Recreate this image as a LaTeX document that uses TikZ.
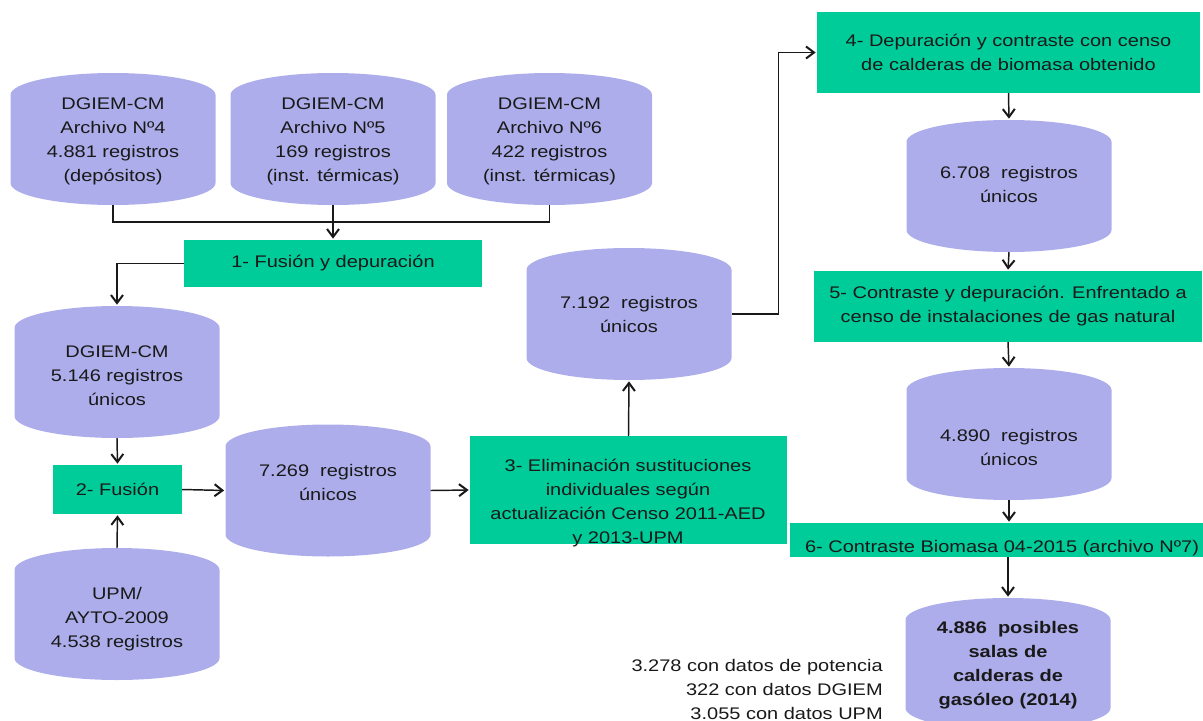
\documentclass[tikz,border=0pt]{standalone}
\usepackage{fontspec}
\setmainfont{Liberation Sans}[FakeStretch=1.19]
\usetikzlibrary{arrows.meta}
\definecolor{lav}{RGB}{173,173,235}
\definecolor{grn}{RGB}{0,204,153}
\definecolor{ink}{RGB}{25,25,25}
\tikzset{
  cylbody/.style={minimum width=153.75pt, minimum height=99pt, inner sep=0pt, outer sep=0pt,
    path picture={
      \fill[lav] ([yshift=-16.5pt]path picture bounding box.north west) -- ([yshift=16.5pt]path picture bounding box.south west)
        arc[start angle=180,end angle=360,x radius=76.875pt,y radius=16.5pt]
        -- ([yshift=-16.5pt]path picture bounding box.north east)
        arc[start angle=0,end angle=180,x radius=76.875pt,y radius=16.5pt] -- cycle;
    }},
  cyl/.style={cylbody, append after command={
      \pgfextra{\draw[white, opacity=.7, line width=0.7pt] ([yshift=-16.5pt]\tikzlastnode.north west)
        arc[start angle=180,end angle=215,x radius=76.875pt,y radius=16.5pt];
      \draw[white, opacity=.7, line width=0.7pt] ([yshift=-16.5pt]\tikzlastnode.north east)
        arc[start angle=360,end angle=325,x radius=76.875pt,y radius=16.5pt];}}},
  cylfull/.style={cylbody, append after command={
      \pgfextra{\draw[white, opacity=.6, line width=0.7pt] ([yshift=-16.5pt]\tikzlastnode.north west)
        arc[start angle=180,end angle=360,x radius=76.875pt,y radius=16.5pt];}}},
  box/.style={fill=grn, draw=none, inner sep=0pt, outer sep=0pt, align=center, text=ink},
  ctext/.style={align=center, text=ink, inner sep=0pt},
  conn/.style={draw=ink, line width=1.1pt},
  arr/.style={conn, -{Straight Barb[length=6pt,width=9pt,line width=1.5pt]}, shorten >=1pt},
  every node/.append style={font=\fontsize{12.6}{18}\selectfont}
}
\begin{document}
\begin{tikzpicture}[x=0.75pt,y=-0.75pt]
\useasboundingbox (0,0) rectangle (1203,721);
\clip (0,0) rectangle (1203,721);

% cylinders
\node[cyl] (c4) at (113,139) {};
\node[ctext] (t4) at (113,141) {DGIEM-CM\\Archivo Nº4\\4.881 registros\\(depósitos)};
\node[cyl] (c5) at (333,139) {};
\node[ctext] (t5) at (333,141) {DGIEM-CM\\Archivo Nº5\\169 registros\\(inst. térmicas)};
\node[cyl] (c6) at (549.5,139) {};
\node[ctext] (t6) at (549.5,141) {DGIEM-CM\\Archivo Nº6\\422 registros\\(inst. térmicas)};

\node[cyl] (cDG) at (117,372) {};
\node[ctext] (tDG) at (117,376) {DGIEM-CM\\5.146 registros\\únicos};
\node[cyl] (cUPM) at (117,614) {};
\node[ctext] (tUPM) at (117,619) {UPM/\\AYTO-2009\\4.538 registros};
\node[cyl] (c7269) at (328,490.5) {};
\node[ctext] (t7269) at (328,482) {7.269~~registros\\únicos};
\node[cyl] (c7192) at (629,314) {};
\node[ctext] (t7192) at (629,314) {7.192~~registros\\únicos};
\node[cyl] (c6708) at (1009,186) {};
\node[ctext] (t6708) at (1009,184) {6.708~~registros\\únicos};
\node[cylfull] (c4890) at (1009,434) {};
\node[ctext] (t4890) at (1009,447) {4.890~~registros\\únicos};
\node[cyl] (cfin) at (1008,664) {};
\node[ctext, font=\fontsize{12.6}{18}\selectfont\bfseries] (tfin) at (1008,665) {4.886~~posibles\\salas de\\calderas de\\gasóleo (2014)};

% boxes
\node[box, minimum width=223.5pt, minimum height=35.25pt] (b1) at (333,263.5) {1- Fusión y depuración};
\node[box, minimum width=96.75pt, minimum height=36.75pt] (b2) at (117.5,489.5) {2- Fusión};
\node[box, minimum width=237.75pt, minimum height=81pt] (b3) at (628.5,490) {};
\node[ctext] (t3) at (628,503) {3- Eliminación sustituciones\\individuales según\\actualización Censo 2011-AED\\y 2013-UPM};
\node[box, minimum width=287.25pt, minimum height=60.75pt] (b4) at (1008.5,52.5) {4- Depuración y contraste con censo\\de calderas de biomasa obtenido};
\node[box, minimum width=291pt, minimum height=53.25pt] (b5) at (1008,306.5) {5- Contraste y depuración. Enfrentado a\\censo de instalaciones de gas natural};
\node[box, minimum width=318pt, minimum height=25.5pt] (b6) at (1002,540) {};
\node[ctext] (t6b) at (1002,548) {6- Contraste Biomasa 04-2015 (archivo Nº7)};

\node[ctext, align=right, anchor=east] (note) at (883,689) {3.278 con datos de potencia\\322 con datos DGIEM\\3.055 con datos UPM};

% connectors
\draw[conn] (c4.south) -- ++(0,17) -| (c6.south);
\draw[arr] (c5.south) -- (b1.north);
\draw[arr] (b1.west) -| (cDG.north);
\draw[arr] (cDG.south) -- (b2.north);
\draw[arr] (cUPM.north) -- (b2.south);
\draw[arr] (b2.east) -- (c7269.west);
\draw[arr] (c7269.east) -- (b3.west);
\draw[arr] (b3.north) -- (c7192.south);
\draw[arr] (c7192.east) -- ++(47,0) |- (b4.west);
\draw[arr] (b4.south) -- (c6708.north);
\draw[arr] (c6708.south) -- (b5.north);
\draw[arr] (b5.south) -- (c4890.north);
\draw[arr] (c4890.south) -- (b6.north -| c4890.south);
\draw[arr] (b6.south -| cfin.north) -- (cfin.north);
\end{tikzpicture}
\end{document}
